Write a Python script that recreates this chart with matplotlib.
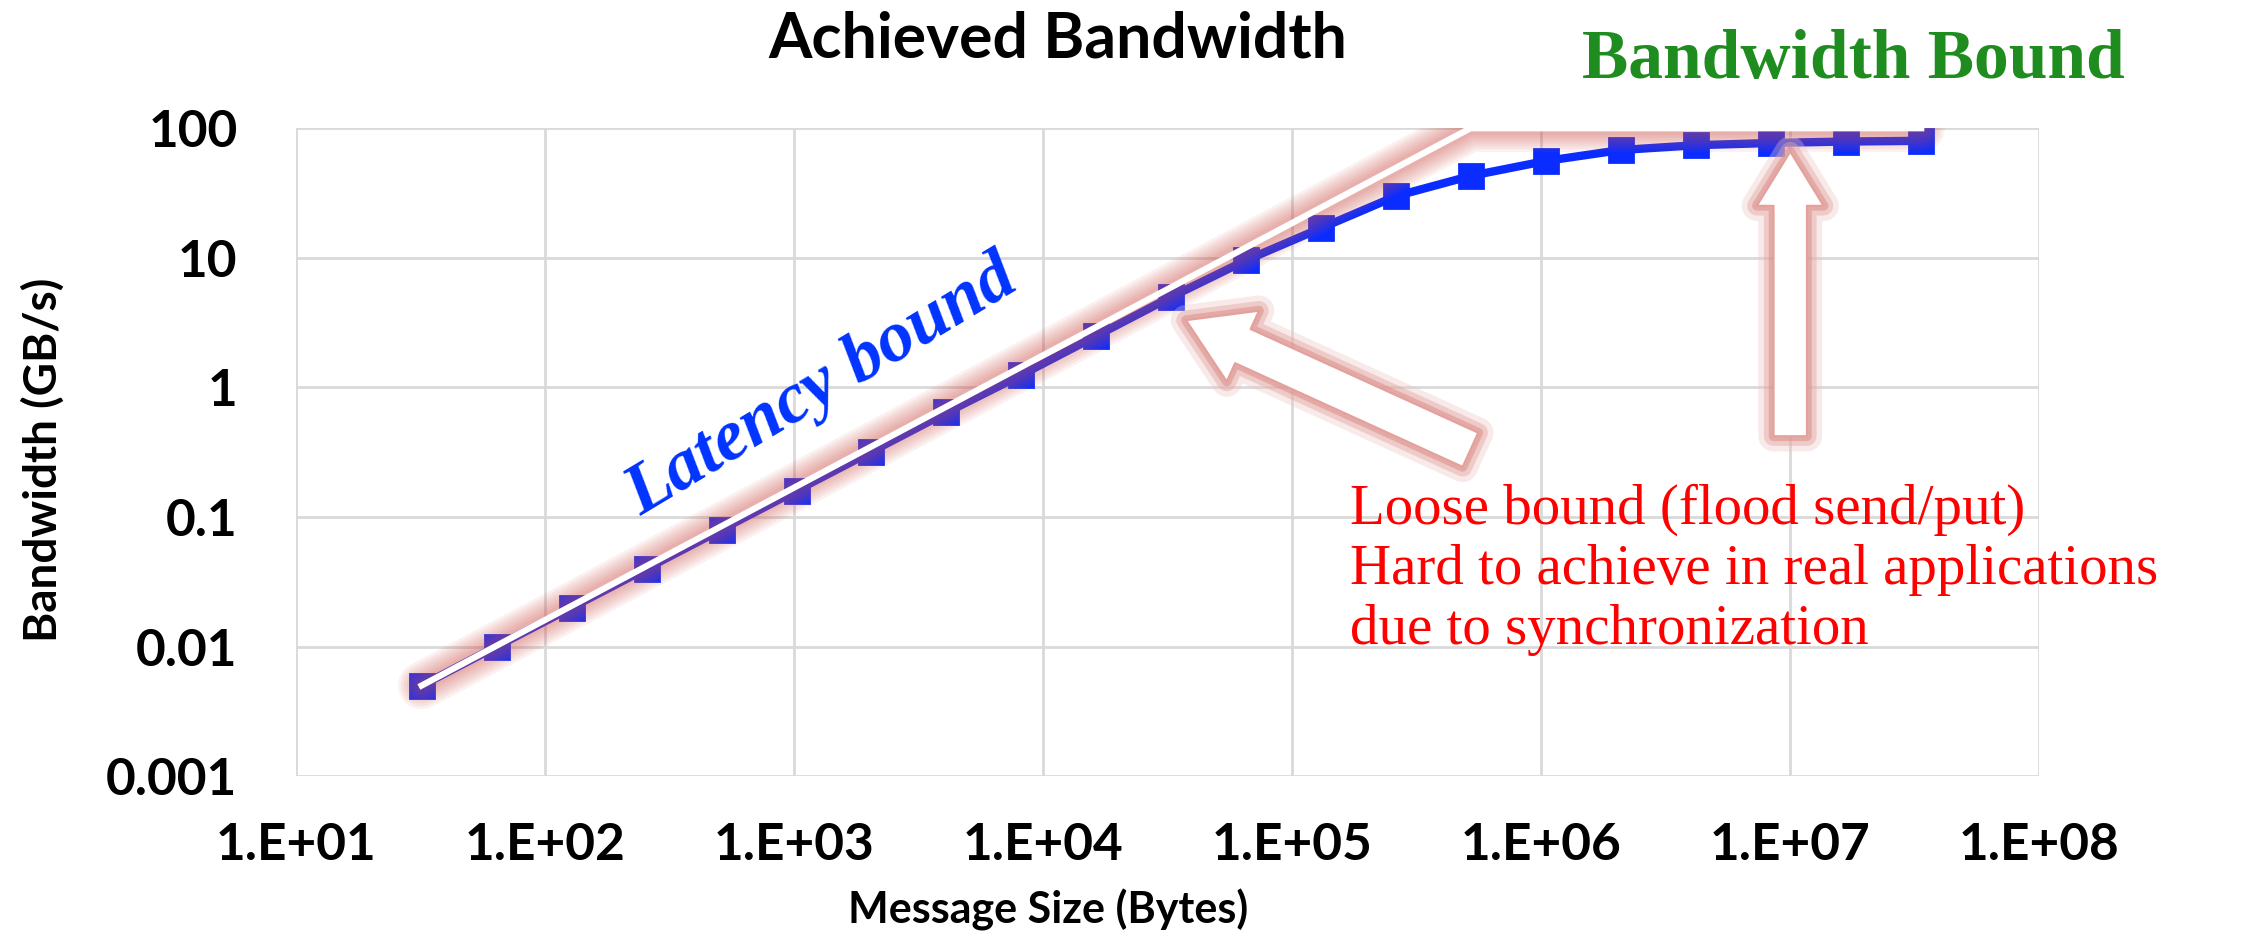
import matplotlib
matplotlib.use("Agg")
import matplotlib.pyplot as plt
import matplotlib.patheffects as pe
from matplotlib.patches import FancyArrowPatch

# message sizes (bytes) and achieved bandwidth (GB/s)
msg_size = [32, 64, 128, 256, 512, 1024, 2048, 4096, 8192, 16384, 32768,
            65536, 131072, 262144, 524288, 1048576, 2097152, 4194304,
            8388608, 16777216, 33554432]
bandwidth = [0.005, 0.01, 0.02, 0.04, 0.08, 0.16, 0.32, 0.64, 1.25, 2.5, 5.0,
             9.6, 17, 30, 43, 56, 68, 74, 77, 79, 80]

# bound lines: latency-bound slope up to the peak, then flat
bound_x = [32, 5.2e5, 33554432]
bound_y = [0.005, 100, 100]

xticks = [1e1, 1e2, 1e3, 1e4, 1e5, 1e6, 1e7, 1e8]
xlabels = ["1.E+01", "1.E+02", "1.E+03", "1.E+04", "1.E+05", "1.E+06", "1.E+07", "1.E+08"]
yticks = [0.001, 0.01, 0.1, 1, 10, 100]
ylabels = ["0.001", "0.01", "0.1", "1", "10", "100"]

sans = "Lato"
serif = "Liberation Serif"

fig = plt.figure(figsize=(22.41, 9.43), dpi=100)
ax = fig.add_axes([0.132, 0.177, 0.778, 0.687])
ax.set_xscale("log")
ax.set_yscale("log")
ax.set_xlim(1e1, 1e8)
ax.set_ylim(1e-3, 1e2)

ax.set_xticks(xticks)
ax.set_xticklabels(xlabels, fontsize=37, fontweight="bold", family=sans)
ax.set_yticks(yticks)
ax.set_yticklabels(ylabels, fontsize=37, fontweight="bold", family=sans)
ax.minorticks_off()
ax.tick_params(length=0)
ax.tick_params(axis="x", pad=33)
ax.tick_params(axis="y", pad=42)
ax.grid(True, color="#d9d9d9", linewidth=2)
ax.set_axisbelow(True)
for s in ax.spines.values():
    s.set_visible(False)

# measured curve
ax.plot(msg_size, bandwidth, color="#0a2cff", linewidth=6, marker="s",
        markersize=17, markeredgewidth=2, markeredgecolor="#0a2cff", zorder=3,
        solid_joinstyle="round")

# bound line: soft red glow + white core
for lw in [34, 30, 26, 22, 18, 14, 10]:
    ax.plot(bound_x, bound_y, color="#d0504a", linewidth=lw, alpha=0.08,
            solid_capstyle="round", solid_joinstyle="round", zorder=4)
ax.plot(bound_x, bound_y, color="white", linewidth=4.5, zorder=5)

glow = [pe.Stroke(linewidth=22, foreground="#ecc4c0", alpha=0.35),
        pe.Stroke(linewidth=14, foreground="#e3a6a2", alpha=0.45),
        pe.Stroke(linewidth=7, foreground="#db8d88", alpha=0.55),
        pe.Normal()]

arr1 = FancyArrowPatch((5.2e5, 0.33), (3.75e4, 3.3),
                       arrowstyle="simple,head_width=5.6,head_length=4.5,tail_width=2.7",
                       mutation_scale=10, facecolor="white", edgecolor="#e3a09c",
                       linewidth=1.5, shrinkA=0, shrinkB=0, zorder=6)
arr1.set_path_effects(glow)
ax.add_patch(arr1)

arr2 = FancyArrowPatch((1e7, 0.42), (1e7, 66),
                       arrowstyle="simple,head_width=4.8,head_length=3.9,tail_width=2.4",
                       mutation_scale=10, facecolor="white", edgecolor="#e3a09c",
                       linewidth=1.5, shrinkA=0, shrinkB=0, zorder=6)
arr2.set_path_effects(glow)
ax.add_patch(arr2)

# annotations
ax.text(1.3e3, 1.0, "Latency bound", color="#0033ff", fontsize=52,
        fontweight="bold", fontstyle="italic", family=serif,
        rotation=31, ha="center", va="center", zorder=7)
ax.text(1.71e5, 0.18, "Loose bound (flood send/put)\nHard to achieve in real applications\ndue to synchronization",
        color="#ff0000", fontsize=41, family=serif, ha="left", va="top",
        linespacing=1.2, zorder=7)
fig.text(0.827, 0.935, "Bandwidth Bound", color="#1e8c1e", fontsize=50,
         fontweight="bold", family=serif, ha="center", va="center")

fig.text(0.472, 0.958, "Achieved Bandwidth", fontsize=45, fontweight="bold",
         family=sans, ha="center", va="center")
fig.text(0.4675, 0.035, "Message Size (Bytes)", fontsize=31, fontweight="bold",
         family=sans, ha="center", va="center")
fig.text(0.019, 0.512, "Bandwidth (GB/s)", fontsize=33, fontweight="bold",
         family=sans, ha="center", va="center", rotation=90)

fig.savefig("out.png", dpi=100)
